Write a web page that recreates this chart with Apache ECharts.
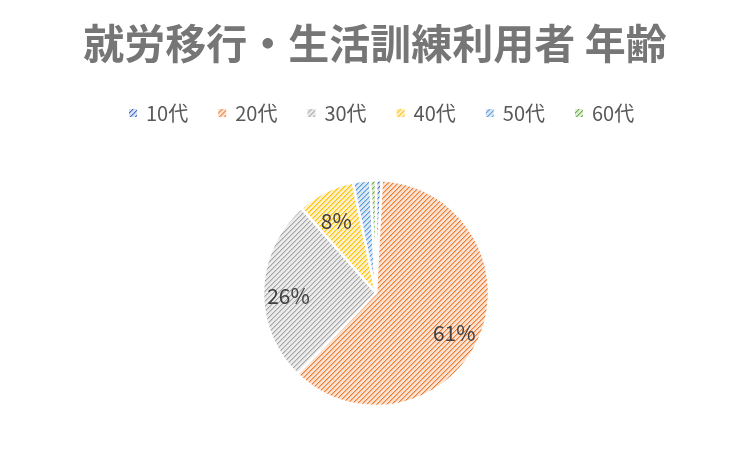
<!DOCTYPE html>
<html>
<head>
<meta charset="utf-8">
<script src="https://cdn.jsdelivr.net/npm/echarts@6/dist/echarts.min.js"></script>
<style>
  html, body { margin: 0; padding: 0; background: #ffffff; }
  #chart { width: 750px; height: 451px; }
</style>
</head>
<body>
<div id="chart"></div>
<script>
const titleText = '就労移行・生活訓練利用者 年齢';
const categories = ['10代', '20代', '30代', '40代', '50代', '60代'];
const values = [1, 75, 32, 10, 3, 1];
const baseColors = ['#4472C4', '#ED7D31', '#A5A5A5', '#FFC000', '#5B9BD5', '#70AD47'];
const labelMinPercent = 5;

function hexToRgb(h) {
  const n = parseInt(h.slice(1), 16);
  return [(n >> 16) & 255, (n >> 8) & 255, n & 255];
}
function mix(rgb, t) { // t: amount of white
  return rgb.map(v => Math.round(v + (255 - v) * t));
}
function makePattern(hex) {
  const size = 5;
  const cv = document.createElement('canvas');
  cv.width = size; cv.height = size;
  const ctx = cv.getContext('2d');
  const img = ctx.createImageData(size, size);
  const base = hexToRgb(hex);
  const mid = mix(base, 0.45);
  const light = mix(base, 0.78);
  for (let y = 0; y < size; y++) {
    for (let x = 0; x < size; x++) {
      const k = (x + y) % size;
      const c = k === 0 ? base : (k === 1 ? mid : light);
      const i = (y * size + x) * 4;
      img.data[i] = c[0]; img.data[i + 1] = c[1]; img.data[i + 2] = c[2]; img.data[i + 3] = 255;
    }
  }
  ctx.putImageData(img, 0, 0);
  return { image: cv, repeat: 'repeat' };
}

const patterns = baseColors.map(makePattern);
const pieData = categories.map((name, i) => ({
  name: name,
  value: values[i],
  itemStyle: { color: patterns[i] }
}));
const labelData = categories.map((name, i) => ({ name: name, value: values[i] }));

const chart = echarts.init(document.getElementById('chart'), null, { renderer: 'canvas' });
const fontFamily = '"Noto Sans CJK JP", "Noto Sans", sans-serif';
chart.setOption({
  animation: false,
  backgroundColor: '#ffffff',
  title: {
    text: titleText,
    left: 'center',
    top: 18,
    textStyle: { fontFamily: fontFamily, fontSize: 41, fontWeight: 'bold', color: '#767676' }
  },
  legend: {
    data: categories,
    top: 98,
    left: 122,
    icon: 'rect',
    itemWidth: 10,
    itemHeight: 10,
    itemGap: 28,
    textStyle: { fontFamily: fontFamily, fontSize: 20, color: '#595959', padding: [0, 0, 0, 3] }
  },
  series: [
    {
      type: 'pie',
      center: [376, 293],
      radius: [0, 113],
      startAngle: 90,
      clockwise: true,
      data: pieData,
      itemStyle: { borderColor: '#ffffff', borderWidth: 2.5 },
      label: { show: false },
      labelLine: { show: false },
      emphasis: { disabled: true }
    },
    {
      type: 'pie',
      center: [376, 293],
      radius: [54, 113],
      startAngle: 90,
      clockwise: true,
      silent: true,
      legendHoverLink: false,
      data: labelData,
      itemStyle: { color: 'rgba(0,0,0,0)', borderWidth: 0 },
      label: {
        show: true,
        position: 'inside',
        fontFamily: fontFamily,
        fontSize: 21,
        color: '#404040',
        offset: [-1, 5],
        formatter: function (p) {
          return p.percent >= labelMinPercent ? Math.round(p.percent) + '%' : '';
        }
      },
      labelLine: { show: false },
      emphasis: { disabled: true }
    }
  ]
});
</script>
</body>
</html>
